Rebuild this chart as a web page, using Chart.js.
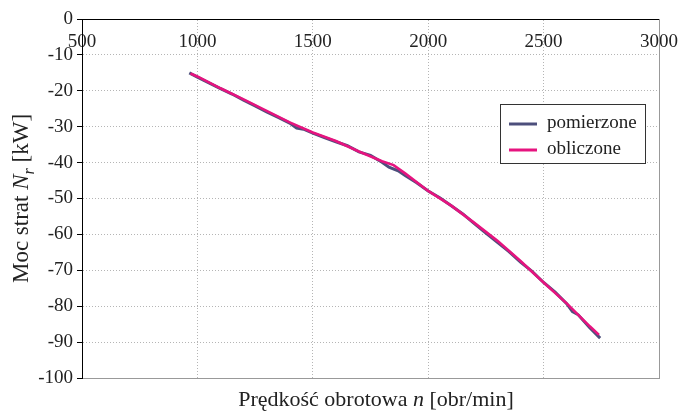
<!DOCTYPE html>
<html>
<head>
<meta charset="utf-8">
<script src="https://cdn.jsdelivr.net/npm/chart.js@4/dist/chart.umd.min.js"></script>
<style>
html, body { margin: 0; padding: 0; background: #fff; }
#wrap { width: 682px; height: 412px; }
</style>
</head>
<body>
<div id="wrap"><canvas id="lossChart" width="682" height="412"></canvas></div>
<script>
// pomierzone (measured)
var speedMeasured = [965, 1000, 1050, 1100, 1150, 1200, 1250, 1300, 1350, 1400, 1430, 1460, 1500, 1550, 1600, 1650, 1700, 1750, 1800, 1830, 1870, 1900, 1950, 2000, 2050, 2100, 2150, 2200, 2250, 2300, 2350, 2400, 2450, 2500, 2550, 2600, 2625, 2650, 2700, 2745];
var lossMeasured = [-15.0, -16.2, -17.8, -19.4, -20.9, -22.6, -24.2, -25.9, -27.4, -29.0, -30.4, -30.7, -31.8, -33.0, -34.2, -35.3, -37.0, -38.0, -39.9, -41.3, -42.3, -43.6, -45.6, -47.9, -49.8, -52.0, -54.3, -57.0, -59.6, -62.2, -64.8, -67.7, -70.3, -73.4, -76.1, -79.3, -81.5, -82.4, -86.0, -88.9];

// obliczone (calculated)
var speedCalc = [970, 1000, 1100, 1200, 1300, 1400, 1500, 1600, 1700, 1800, 1850, 1900, 2000, 2100, 2200, 2300, 2400, 2500, 2600, 2700, 2740];
var lossCalc = [-15.2, -16.0, -19.3, -22.4, -25.6, -28.8, -31.6, -34.0, -36.9, -39.6, -40.7, -43.0, -47.9, -52.0, -56.8, -61.8, -67.4, -73.4, -79.2, -85.6, -88.0];

var xTicks = [500, 1000, 1500, 2000, 2500, 3000];
var yTicks = [0, -10, -20, -30, -40, -50, -60, -70, -80, -90, -100];

var seriesNames = ['pomierzone', 'obliczone'];
var seriesColors = ['#4d4f7c', '#e6147f'];

var serif = "'Liberation Serif', 'DejaVu Serif', serif";

function toPoints(xs, ys) {
    return xs.map(function (x, i) { return { x: x, y: ys[i] }; });
}

function drawRich(ctx, parts, size) {
    var total = 0;
    parts.forEach(function (p) {
        var s = p.sub ? size * 0.7 : size;
        ctx.font = (p.it ? 'italic ' : '') + s + 'px ' + serif;
        p.w = ctx.measureText(p.t).width;
        total += p.w;
    });
    var x = -total / 2;
    parts.forEach(function (p) {
        var s = p.sub ? size * 0.7 : size;
        ctx.font = (p.it ? 'italic ' : '') + s + 'px ' + serif;
        ctx.fillText(p.t, x, p.sub ? size * 0.25 : 0);
        x += p.w;
    });
}

var extrasPlugin = {
    id: 'extras',
    afterDraw: function (chart) {
        var ctx = chart.ctx;
        var area = chart.chartArea;
        ctx.save();
        ctx.fillStyle = '#222';
        ctx.textBaseline = 'alphabetic';
        ctx.textAlign = 'left';

        // x title
        ctx.save();
        ctx.translate(376, 406);
        drawRich(ctx, [{ t: 'Prędkość obrotowa ' }, { t: 'n', it: true }, { t: ' [obr/min]' }], 22);
        ctx.restore();

        // y title
        ctx.save();
        ctx.translate(28, (area.top + area.bottom) / 2);
        ctx.rotate(-Math.PI / 2);
        drawRich(ctx, [{ t: 'Moc strat ' }, { t: 'N', it: true }, { t: 'r', it: true, sub: true }, { t: ' [kW]' }], 23);
        ctx.restore();

        // legend box
        var bx = 500.5, by = 104.5, bw = 145, bh = 59;
        ctx.fillStyle = '#fff';
        ctx.fillRect(bx, by, bw, bh);
        ctx.strokeStyle = '#333';
        ctx.lineWidth = 1;
        ctx.strokeRect(bx, by, bw, bh);
        ctx.font = '19px ' + serif;
        ctx.textBaseline = 'middle';
        chart.data.datasets.forEach(function (ds) {
            var idx = seriesNames.indexOf(ds.label);
            var ly = 124 + idx * 26;
            ctx.strokeStyle = ds.borderColor;
            ctx.lineWidth = 3;
            ctx.beginPath();
            ctx.moveTo(509, ly);
            ctx.lineTo(537, ly);
            ctx.stroke();
            ctx.fillStyle = '#222';
            ctx.fillText(ds.label, 547, ly - 1);
        });
        ctx.restore();
    }
};

var lossCtx = document.getElementById('lossChart').getContext('2d');
var lossChart = new Chart(lossCtx, {
    type: 'scatter',
    data: {
        datasets: [
            {
                label: seriesNames[0],
                data: toPoints(speedMeasured, lossMeasured),
                borderColor: seriesColors[0],
                borderWidth: 3,
                showLine: true,
                pointRadius: 0,
                fill: false,
                order: 2
            },
            {
                label: seriesNames[1],
                data: toPoints(speedCalc, lossCalc),
                borderColor: seriesColors[1],
                borderWidth: 2.6,
                showLine: true,
                pointRadius: 0,
                fill: false,
                order: 1
            }
        ]
    },
    options: {
        responsive: false,
        animation: false,
        devicePixelRatio: 1,
        layout: { padding: 0 },
        scales: {
            x: {
                type: 'linear',
                position: 'top',
                min: 500,
                max: 3000,
                afterBuildTicks: function (s) { s.ticks = xTicks.map(function (v) { return { value: v }; }); },
                afterFit: function (s) { s.height = 19; s.paddingLeft = 0; s.paddingRight = 0; },
                ticks: {
                    color: '#222',
                    mirror: true,
                    padding: 12,
                    maxRotation: 0,
                    autoSkip: false,
                    font: { family: serif, size: 19 },
                    callback: function (v) { return String(v); }
                },
                grid: { color: '#b5b5b5', drawTicks: false },
                border: { color: '#000', dash: [1, 2] }
            },
            x2: {
                type: 'linear',
                position: 'bottom',
                min: 500,
                max: 3000,
                afterFit: function (s) { s.height = 34; s.paddingLeft = 0; s.paddingRight = 0; },
                ticks: { display: false },
                grid: { display: false },
                border: { display: true, color: '#999' }
            },
            y: {
                type: 'linear',
                position: 'left',
                min: -100,
                max: 0,
                afterBuildTicks: function (s) { s.ticks = yTicks.map(function (v) { return { value: v }; }); },
                afterFit: function (s) { s.width = 82; s.paddingTop = 0; s.paddingBottom = 0; },
                ticks: {
                    color: '#222',
                    padding: 4,
                    font: { family: serif, size: 19 },
                    callback: function (v) { return String(v); }
                },
                grid: { color: '#b5b5b5', tickColor: '#000', tickLength: 5, tickBorderDash: [] },
                border: { color: '#000', dash: [1, 2] }
            },
            y2: {
                type: 'linear',
                position: 'right',
                min: -100,
                max: 0,
                afterFit: function (s) { s.width = 23; s.paddingTop = 0; s.paddingBottom = 0; },
                ticks: { display: false },
                grid: { display: false },
                border: { display: true, color: '#999' }
            }
        },
        plugins: {
            legend: { display: false },
            tooltip: { enabled: false }
        }
    },
    plugins: [extrasPlugin]
});
</script>
</body>
</html>
